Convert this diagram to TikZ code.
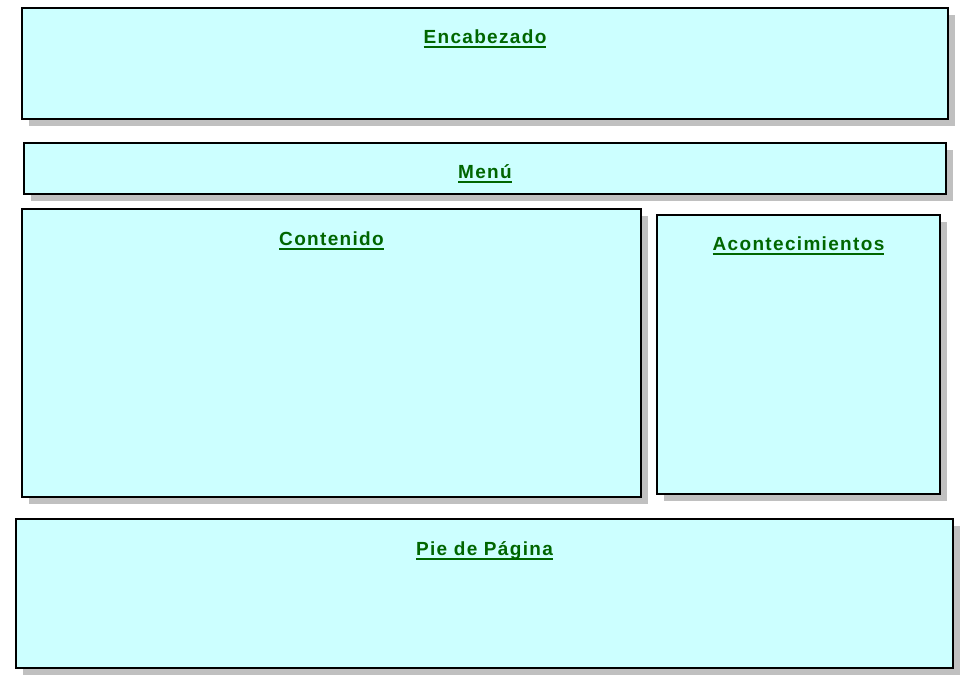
\documentclass[tikz,border=0pt]{standalone}
\usepackage{fontspec}
\setmainfont{Liberation Sans}
\newfontfamily\panefont[LetterSpace=7]{Liberation Sans}
\usetikzlibrary{positioning,shadows}
\definecolor{panefill}{HTML}{CCFFFF}
\definecolor{titlegreen}{HTML}{006600}
\definecolor{shadowgray}{HTML}{C0C0C0}
% underline with a thicker rule
\newcommand{\paneul}[1]{\leavevmode\setbox0=\hbox{#1}\rlap{\vrule width \wd0 height -3pt depth 4.8pt}\box0}

\begin{document}
\begin{tikzpicture}[x=1pt,y=-1pt,
  pane/.style={draw=black, line width=2pt, fill=panefill, anchor=north west, inner sep=0pt,
    drop shadow={shadow xshift=7pt, shadow yshift=-7pt, fill=shadowgray, opacity=1}},
  title/.style={anchor=base, text=titlegreen, font=\panefont\bfseries\fontsize{19}{22}\selectfont}]
  \useasboundingbox (0,0) rectangle (974,681);

  \node[pane, minimum width=926pt, minimum height=111pt] (enc) at (21,7) {};
  \node[pane, minimum width=922pt, minimum height=51pt] (menu) at (23,142) {};
  \node[pane, minimum width=619pt, minimum height=288pt] (cont) at (21,208) {};
  \node[pane, minimum width=283pt, minimum height=279pt] (acon) at (656,214) {};
  \node[pane, minimum width=937pt, minimum height=149pt] (pie) at (15,518) {};

  \node[title] (encT) at ([yshift=-36pt]enc.north) {\paneul{Encabezado}};
  \node[title] (menuT) at ([yshift=-36pt]menu.north) {\paneul{Menú}};
  \node[title] (contT) at ([yshift=-37pt]cont.north) {\paneul{Contenido}};
  \node[title] (aconT) at ([yshift=-36pt]acon.north) {\paneul{Acontecimientos}};
  \node[title] (pieT) at ([yshift=-37pt]pie.north) {\paneul{Pie de Página}};
\end{tikzpicture}
\end{document}
